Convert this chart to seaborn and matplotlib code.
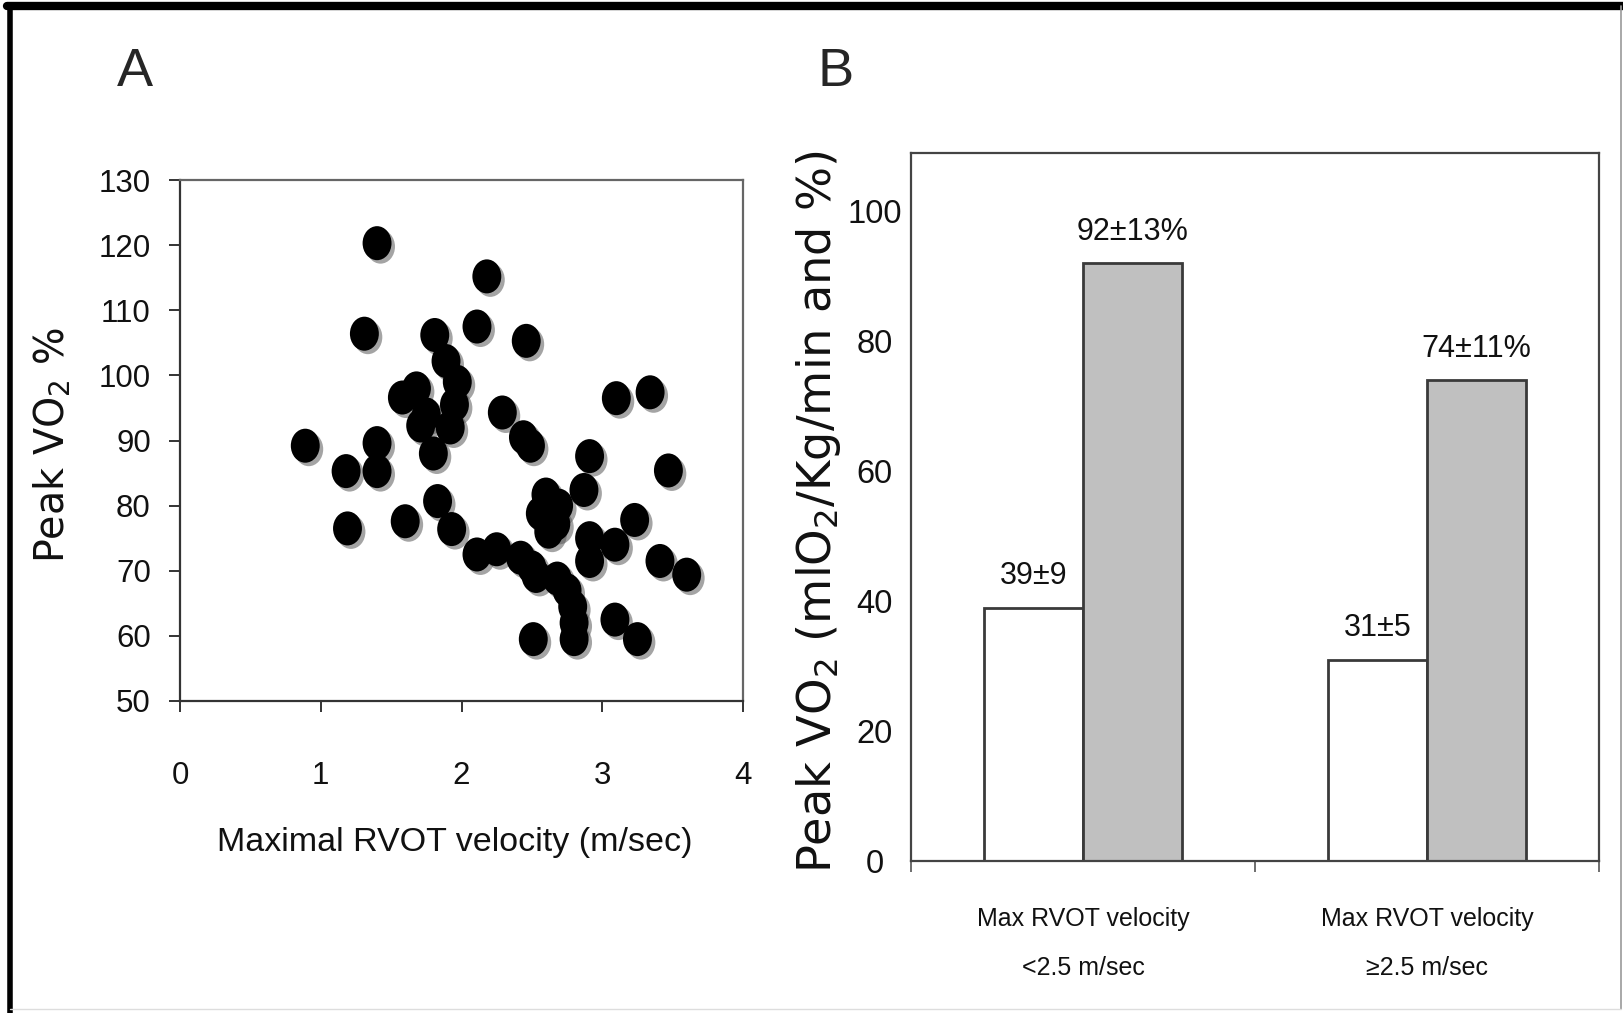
import numpy as np
import pandas as pd
import matplotlib
matplotlib.use("Agg")
import matplotlib.pyplot as plt
import seaborn as sns
from matplotlib import patheffects as pe
from matplotlib.path import Path
from matplotlib.lines import Line2D

# ---- Panel A: peak VO2 % vs maximal RVOT velocity ----
rvot_velocity = [
    1.40, 2.18, 1.31, 1.81, 2.11, 2.46, 1.89, 1.97, 1.95, 1.92,
    1.80, 1.68, 1.58, 1.71, 1.75, 2.29, 2.44, 2.49, 3.10, 3.34,
    0.89, 1.40, 1.40, 1.18, 2.91, 3.47, 2.87, 2.60, 2.69, 2.56,
    2.67, 2.62, 1.19, 1.60, 1.83, 1.93, 2.11, 2.25, 2.42, 2.50,
    2.53, 2.68, 2.75, 2.79, 2.80, 2.80, 2.51, 2.91, 2.91, 3.09,
    3.23, 3.41, 3.60, 3.09, 3.25,
]
peak_vo2_pct = [
    120.3, 115.2, 106.4, 106.2, 107.5, 105.3, 102.2, 99.0, 95.5, 92.0,
    88.0, 98.0, 96.6, 92.3, 94.0, 94.3, 90.5, 89.2, 96.5, 97.4,
    89.2, 89.6, 85.3, 85.3, 87.6, 85.4, 82.4, 81.7, 80.0, 78.8,
    77.2, 76.0, 76.5, 77.6, 80.7, 76.4, 72.5, 73.3, 72.0, 70.5,
    69.2, 68.8, 67.0, 64.5, 62.0, 59.5, 59.5, 75.0, 71.5, 74.0,
    77.8, 71.5, 69.4, 62.5, 59.5,
]
x_ticks_a = [0, 1, 2, 3, 4]
y_ticks_a = [50, 60, 70, 80, 90, 100, 110, 120, 130]

# ---- Panel B: peak VO2 by RVOT velocity group ----
groups = ["Max RVOT velocity\n<2.5 m/sec", "Max RVOT velocity\n\u22652.5 m/sec"]
measures = ["mlO2/Kg/min", "%"]
vo2_abs = [39, 31]
vo2_pct = [92, 74]
vo2_abs_text = ["39\u00b19", "31\u00b15"]
vo2_pct_text = ["92\u00b113%", "74\u00b111%"]
y_ticks_b = [0, 20, 40, 60, 80, 100]

scatter_df = pd.DataFrame({"velocity": rvot_velocity, "vo2": peak_vo2_pct})
bar_df = pd.DataFrame({
    "group": groups * 2,
    "measure": [measures[0]] * 2 + [measures[1]] * 2,
    "value": vo2_abs + vo2_pct,
})

sns.set_style("white")
narrow = ["Liberation Sans Narrow", "Liberation Sans", "DejaVu Sans"]
plt.rcParams["font.family"] = narrow
plt.rcParams["mathtext.fontset"] = "dejavusans"
wide = ["DejaVu Sans"]

W, H = 1623, 1013
fig = plt.figure(figsize=(W / 100, H / 100), dpi=100)
fig.patch.set_facecolor("white")

def fx(px):
    return px / W

def fy(py):
    return 1 - py / H

# axes placement (pixel box -> figure fraction)
ax_a = fig.add_axes([fx(180), fy(701), fx(743) - fx(180), fy(180) - fy(701)])
ax_b = fig.add_axes([fx(911), fy(861), fx(1599) - fx(911), fy(153) - fy(861)])

# ---- scatter ----
circ = Path.unit_circle()
ellipse = Path(circ.vertices * np.array([0.85, 1.0]), circ.codes)
sns.scatterplot(data=scatter_df, x="velocity", y="vo2", ax=ax_a, color="black",
                marker=ellipse, s=600, linewidth=0, edgecolor="black", legend=False)
ax_a.collections[0].set_path_effects([
    pe.SimplePatchShadow(offset=(2.5, -2.5), shadow_rgbFace="0.35", alpha=0.55),
    pe.Normal(),
])
ax_a.set_xlim(0, 4)
ax_a.set_ylim(50, 130)
ax_a.set_xticks(x_ticks_a)
ax_a.set_yticks(y_ticks_a)
ax_a.tick_params(axis="both", direction="out", length=8, width=1.4, color="#333333",
                 labelsize=22.5, labelcolor="#111111", left=True, bottom=True)
ax_a.tick_params(axis="x", pad=35)
ax_a.tick_params(axis="y", pad=13)
for side, sp in ax_a.spines.items():
    sp.set_visible(True)
    sp.set_color("#333333" if side in ("left", "bottom") else "#666666")
    sp.set_linewidth(1.6)
ax_a.set_xlabel("Maximal RVOT velocity (m/sec)", fontsize=24.5, color="#111111")
ax_a.xaxis.set_label_coords(0.488, -0.2725)
ax_a.xaxis.label.set_va("center")
ax_a.set_ylabel("Peak VO$_2$ %", fontsize=28.5, family=wide, color="#111111")
ax_a.yaxis.set_label_coords(-0.227, 0.49)
ax_a.yaxis.label.set_va("center")

# ---- bars ----
sns.barplot(data=bar_df, x="group", y="value", hue="measure", hue_order=measures,
            order=groups, palette=["white", "#c0c0c0"], saturation=1, width=0.575,
            edgecolor="#3a3a3a", linewidth=2, legend=False, ax=ax_b, errorbar=None)
for cont, texts in zip(ax_b.containers, [vo2_abs_text, vo2_pct_text]):
    ax_b.bar_label(cont, labels=texts, padding=12, fontsize=22, color="#111111")
ax_b.set_xlim(-0.5, 1.5)
ax_b.set_ylim(0, 109)
ax_b.set_yticks(y_ticks_b)
for lab in ax_b.get_yticklabels():
    lab.set_horizontalalignment("center")
ax_b.tick_params(axis="y", length=0, labelsize=23.5, pad=26, labelcolor="#111111")
ax_b.tick_params(axis="x", length=0, labelsize=18, pad=33, labelcolor="#111111")
ax_b.set_xticks([-0.5, 0.5, 1.5], minor=True)
ax_b.tick_params(axis="x", which="minor", direction="out", length=8, width=1.2,
                 color="#555555", bottom=True)
for lab in ax_b.get_xticklabels():
    lab.set_linespacing(2.35)
for sp in ax_b.spines.values():
    sp.set_visible(True)
    sp.set_color("#444444")
    sp.set_linewidth(1.6)
ax_b.set_xlabel("")
ax_b.set_ylabel("Peak VO$_2$ (mlO$_2$/Kg/min and %)", fontsize=33.4, family=wide,
                color="#111111")
ax_b.yaxis.set_label_coords(-0.135, 0.493)
ax_b.yaxis.label.set_va("center")

# ---- panel letters ----
fig.text(fx(135), fy(72), "A", fontsize=39, ha="center", va="center")
fig.text(fx(836), fy(72), "B", fontsize=39, ha="center", va="center")

# ---- outer frame ----
fig.add_artist(Line2D([fx(7), 1], [fy(6), fy(6)], transform=fig.transFigure,
                      color="black", linewidth=6))
fig.add_artist(Line2D([fx(10), fx(10)], [fy(6), 0], transform=fig.transFigure,
                      color="black", linewidth=4))
fig.add_artist(Line2D([fx(1621), fx(1621)], [fy(6), fy(1009)], transform=fig.transFigure,
                      color="#999999", linewidth=1.2))
fig.add_artist(Line2D([fx(10), fx(1621)], [fy(1009), fy(1009)], transform=fig.transFigure,
                      color="#dddddd", linewidth=1.0))

fig.savefig("out.png", dpi=100, facecolor="white")
